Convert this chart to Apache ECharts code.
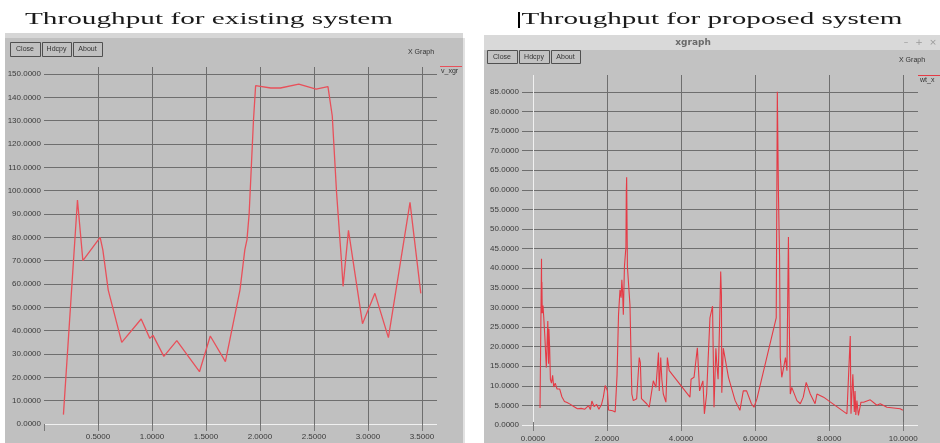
<!DOCTYPE html>
<html><head><meta charset="utf-8">
<script src="https://cdn.jsdelivr.net/npm/echarts@6/dist/echarts.min.js"></script>
<style>html,body{margin:0;padding:0;background:#fff}#c{width:940px;height:443px}</style>
</head><body><div id="c"></div><script>
const existingTitle = 'Throughput for existing system';
const proposedTitle = 'Throughput for proposed system';
const windowTitle = 'xgraph';
const buttonLabels = ['Close', 'Hdcpy', 'About'];
const graphLabel = 'X Graph';
const existingLegend = 'v_xgr';
const proposedLegend = 'wt_x';

// existing system (left)
const existingX = [0.18,0.31,0.36,0.52,0.545,0.595,0.72,0.90,0.98,1.01,1.11,1.23,1.44,1.54,1.68,1.815,1.86,1.88,1.90,1.94,1.96,2.10,2.19,2.36,2.52,2.63,2.67,2.71,2.755,2.77,2.82,2.95,3.065,3.19,3.39,3.49];
const existingY = [4,96,70,80,74.6,57.4,35,45,36.7,38,29,35.7,22.4,37.7,26.7,57.4,74.6,79,90,130,145,144,144,145.7,143.5,144.6,132,99,70,59,83,43,56,37,95,56];

// proposed system (right)
const proposedX = [0.19,0.21,0.23,0.235,0.24,0.25,0.27,0.29,0.32,0.36,0.40,0.42,0.43,0.45,0.47,0.50,0.53,0.56,0.60,0.65,0.72,0.78,0.85,0.92,1.0,1.1,1.2,1.3,1.4,1.5,1.55,1.59,1.65,1.72,1.78,1.85,1.9,1.95,2.01,2.04,2.15,2.22,2.27,2.31,2.35,2.38,2.40,2.42,2.44,2.47,2.49,2.51,2.52,2.53,2.55,2.58,2.62,2.67,2.71,2.8,2.87,2.9,2.93,3.07,3.14,3.25,3.32,3.39,3.41,3.45,3.48,3.52,3.59,3.63,3.68,4.24,4.27,4.35,4.44,4.5,4.59,4.63,4.69,4.78,4.85,4.89,4.94,4.96,5.0,5.04,5.07,5.09,5.10,5.14,5.28,5.46,5.59,5.68,5.77,5.9,5.97,6.05,6.57,6.6,6.63,6.66,6.68,6.72,6.77,6.82,6.86,6.88,6.9,6.92,6.95,6.99,7.13,7.22,7.3,7.38,7.49,7.62,7.67,7.85,7.98,8.02,8.48,8.57,8.59,8.64,8.68,8.70,8.72,8.75,8.79,8.86,8.93,9.11,9.29,9.38,9.56,9.92,9.99];
const proposedY = [3.6,23,42,28,36,28,30,27,22,14,26,15,24,19,11,10,12,9,10,8.5,8.5,6.5,5.3,5,4.6,4,3.4,3.5,3.3,4.2,3.2,5.4,4,4.5,3.3,4.5,6.4,9.4,8,3.1,2.9,2.6,12,27.6,34,32,36.6,33.6,27.6,40,39.5,45,59,63,40,40.4,30,7.2,5.5,6,16.6,15.3,6,4.7,3.8,10.6,8.9,17.9,8,16.6,11,7.2,5.1,16.6,13.2,6.4,11,11.5,19.1,8,10.6,2.1,7.2,26.8,29.8,3.8,19,15.7,11,25,38.7,32.7,7.5,19,11.5,5.5,3,8,8,4.7,3.8,6,26.8,85,58.7,42.6,16.6,11.5,14,16.6,13.2,31,47.6,27.6,7.2,8.9,5.5,4.7,6.4,10.2,7.2,4.7,7.2,6.4,5.5,6,2.1,22.1,2.1,12.3,2.6,8,1.8,5.5,1.7,5.1,5.1,5.7,4.3,4.7,3.8,3.4,3];

const existingXTicks = { min: 0, max: 3.64, step: 0.5 };
const existingYTicks = { min: 0, max: 153, step: 10 };
const proposedXTicks = { min: 0, max: 10.4, step: 2 };
const proposedYTicks = { min: 0, max: 89.3, step: 5 };

const GRID = '#6e6e6e', ZERO = '#f0f0f0', LBL = '#3a3a3a';
const lineColors = n => [ZERO].concat(Array(30).fill(GRID));
const isMult = (v, s) => Math.abs(v / s - Math.round(v / s)) < 1e-6;
const fmt = s => v => isMult(v, s) ? v.toFixed(4) : '';
const lblStyle = { fontSize: 8, color: LBL, fontFamily: '"Liberation Sans", Arial, sans-serif' };

const ctx = document.createElement('canvas').getContext('2d');
const TFONT = '17px "Liberation Serif", "Times New Roman", serif';
ctx.font = TFONT;
const sL = 368 / ctx.measureText(existingTitle).width;
const sR = 381 / ctx.measureText(proposedTitle).width;

function button(x, y, w, h, t) {
  return [
    { type: 'rect', z: -5, shape: { x: x + 0.5, y: y + 0.5, width: w, height: h }, style: { fill: 'rgba(0,0,0,0)', stroke: '#505050', lineWidth: 1 } },
    { type: 'text', z: 10, x: x + w / 2, y: y + h / 2 + 0.5, style: { text: t, font: '7px "Liberation Sans", Arial, sans-serif', fill: '#333', textAlign: 'center', textVerticalAlign: 'middle', verticalAlign: 'middle' } }
  ];
}

const graphics = [
  { type: 'rect', z: -20, shape: { x: 5, y: 33, width: 458, height: 5 }, style: { fill: '#d6d6d6' } },
  { type: 'rect', z: -20, shape: { x: 5, y: 38, width: 458, height: 405 }, style: { fill: '#c0c0c0' } },
  { type: 'rect', z: -20, shape: { x: 463, y: 38, width: 2, height: 405 }, style: { fill: '#e2e2e2' } },
  { type: 'rect', z: -20, shape: { x: 484, y: 35, width: 456, height: 15 }, style: { fill: '#d9d9d9' } },
  { type: 'rect', z: -20, shape: { x: 484, y: 50, width: 456, height: 393 }, style: { fill: '#c2c2c2' } },
  { type: 'text', z: 10, x: 693, y: 43, style: { text: windowTitle, font: 'bold 9px "DejaVu Sans", sans-serif', fill: '#6a6a6a', textAlign: 'center', textVerticalAlign: 'middle', verticalAlign: 'middle' } },
  { type: 'text', z: 10, x: 906, y: 43, style: { text: '–', font: '9px "DejaVu Sans", sans-serif', fill: '#999', textAlign: 'center', verticalAlign: 'middle', textVerticalAlign: 'middle' } },
  { type: 'text', z: 10, x: 919, y: 43, style: { text: '+', font: '9px "DejaVu Sans", sans-serif', fill: '#999', textAlign: 'center', verticalAlign: 'middle', textVerticalAlign: 'middle' } },
  { type: 'text', z: 10, x: 933, y: 43, style: { text: '×', font: '9px "DejaVu Sans", sans-serif', fill: '#999', textAlign: 'center', verticalAlign: 'middle', textVerticalAlign: 'middle' } },
  { type: 'text', z: 10, x: 209, y: 20, scaleX: sL, style: { text: existingTitle, font: TFONT, fill: '#1a1a1a', textAlign: 'center', textVerticalAlign: 'middle', verticalAlign: 'middle' } },
  { type: 'text', z: 10, x: 712, y: 20, scaleX: sR, style: { text: proposedTitle, font: TFONT, fill: '#1a1a1a', textAlign: 'center', textVerticalAlign: 'middle', verticalAlign: 'middle' } },
  { type: 'rect', z: 10, shape: { x: 518, y: 12, width: 2, height: 16 }, style: { fill: '#000' } },
  { type: 'text', z: 10, x: 408, y: 52, style: { text: graphLabel, font: '7px "Liberation Sans", Arial, sans-serif', fill: '#333', verticalAlign: 'middle', textVerticalAlign: 'middle' } },
  { type: 'text', z: 10, x: 899, y: 60, style: { text: graphLabel, font: '7px "Liberation Sans", Arial, sans-serif', fill: '#333', verticalAlign: 'middle', textVerticalAlign: 'middle' } },
  { type: 'line', z: 10, shape: { x1: 440, y1: 66.5, x2: 462, y2: 66.5 }, style: { stroke: '#e8505a', lineWidth: 1 } },
  { type: 'text', z: 10, x: 441, y: 71, style: { text: existingLegend, font: '7px "Liberation Sans", Arial, sans-serif', fill: '#333', verticalAlign: 'middle', textVerticalAlign: 'middle' } },
  { type: 'line', z: 10, shape: { x1: 918, y1: 75.5, x2: 940, y2: 75.5 }, style: { stroke: '#e53a45', lineWidth: 1 } },
  { type: 'text', z: 10, x: 920, y: 80, style: { text: proposedLegend, font: '7px "Liberation Sans", Arial, sans-serif', fill: '#333', verticalAlign: 'middle', textVerticalAlign: 'middle' } }
]
.concat(button(10, 42, 30, 14, buttonLabels[0]), button(42, 42, 29, 14, buttonLabels[1]), button(73, 42, 29, 14, buttonLabels[2]))
.concat(button(487, 50, 30, 13, buttonLabels[0]), button(519, 50, 30, 13, buttonLabels[1]), button(551, 50, 29, 13, buttonLabels[2]));

const chart = echarts.init(document.getElementById('c'), null, { renderer: 'canvas' });
chart.setOption({
  animation: false,
  backgroundColor: '#ffffff',
  graphic: { elements: graphics },
  grid: [
    { left: 44, top: 67, width: 393, height: 357 },
    { left: 522, top: 75, width: 396, height: 350 },
    { left: 533, top: 75, width: 385, height: 350 }
  ],
  xAxis: [
    { type: 'value', gridIndex: 0, min: existingXTicks.min, max: existingXTicks.max, interval: existingXTicks.step,
      axisLine: { show: false }, axisTick: { show: true, length: 7, lineStyle: { color: '#777' } },
      axisLabel: Object.assign({ formatter: v => (v > 0 ? fmt(existingXTicks.step)(v) : ''), margin: 9, showMaxLabel: false }, lblStyle),
      splitLine: { show: true, showMinLine: false, showMaxLine: false, lineStyle: { color: GRID, width: 1 } } },
    { type: 'value', gridIndex: 1, min: 0, max: 1, show: false },
    { type: 'value', gridIndex: 2, min: proposedXTicks.min, max: proposedXTicks.max, interval: proposedXTicks.step,
      axisLine: { show: false }, axisTick: { show: true, length: 9, lineStyle: { color: '#777' } },
      axisLabel: Object.assign({ formatter: fmt(proposedXTicks.step), margin: 13, showMaxLabel: false }, lblStyle),
      splitLine: { show: true, showMaxLine: false, lineStyle: { color: lineColors(), width: 1 } } }
  ],
  yAxis: [
    { type: 'value', gridIndex: 0, min: existingYTicks.min, max: existingYTicks.max, interval: existingYTicks.step,
      axisLine: { show: false }, axisTick: { show: false },
      axisLabel: Object.assign({ formatter: fmt(existingYTicks.step), margin: 3, showMaxLabel: false }, lblStyle),
      splitLine: { show: true, showMaxLine: false, lineStyle: { color: lineColors(), width: 1 } } },
    { type: 'value', gridIndex: 1, min: proposedYTicks.min, max: proposedYTicks.max, interval: proposedYTicks.step,
      axisLine: { show: false }, axisTick: { show: false },
      axisLabel: Object.assign({ formatter: fmt(proposedYTicks.step), margin: 3, showMaxLabel: false }, lblStyle),
      splitLine: { show: true, showMaxLine: false, lineStyle: { color: lineColors(), width: 1 } } },
    { type: 'value', gridIndex: 2, min: proposedYTicks.min, max: proposedYTicks.max, show: false }
  ],
  series: [
    { type: 'line', xAxisIndex: 0, yAxisIndex: 0, symbol: 'none', z: 5,
      data: existingX.map((x, i) => [x, existingY[i]]),
      lineStyle: { color: '#e8505a', width: 1.3 } },
    { type: 'line', xAxisIndex: 2, yAxisIndex: 2, symbol: 'none', z: 5,
      data: proposedX.map((x, i) => [x, proposedY[i]]),
      lineStyle: { color: '#e53a45', width: 1.1 } }
  ]
});
</script></body></html>
